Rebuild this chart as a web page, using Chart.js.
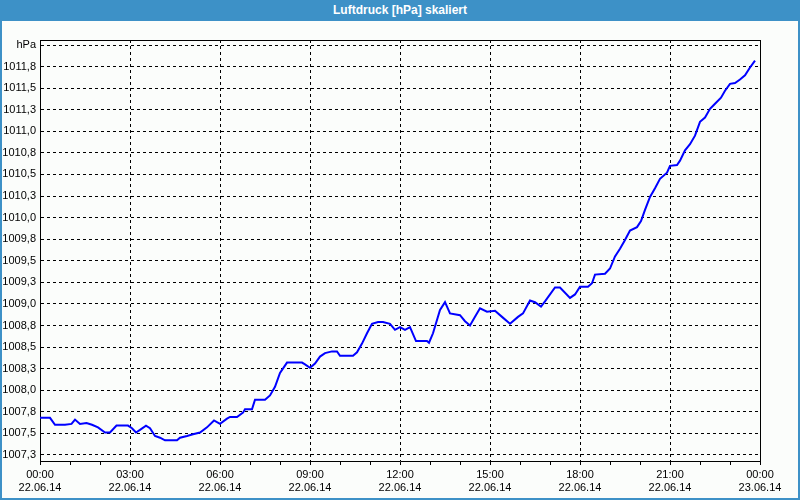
<!DOCTYPE html>
<html>
<head>
<meta charset="utf-8">
<script src="https://cdn.jsdelivr.net/npm/chart.js@4"></script>
<style>
  html, body { margin: 0; padding: 0; }
  body { width: 800px; height: 500px; position: relative; overflow: hidden; }
  #frame {
    position: absolute; left: 0; top: 0; width: 800px; height: 500px;
    box-sizing: border-box; border: 2px solid #3d91c7; border-top: none;
    background: #fbfdfb;
  }
  #titlebar {
    position: absolute; left: 0; top: 0; width: 800px; height: 21px;
    background: #3d91c7; color: #fff;
    font: bold 12px "Liberation Sans", Arial, sans-serif;
    line-height: 21px; text-align: center;
  }
  #chart { position: absolute; left: 0; top: 0; }
</style>
</head>
<body>
<div id="frame"></div>
<div id="titlebar">Luftdruck [hPa] skaliert</div>
<canvas id="chart" width="800" height="500"></canvas>
<script>
// minutes since 22.06.14 00:00
const minutes = [
  0, 20, 30, 50, 63, 70, 80, 93, 104, 116, 130, 140, 153, 176, 184, 192, 200,
  212, 220, 230, 240, 250, 274, 280, 294, 306, 320, 334, 348, 360, 374, 380,
  394, 406, 410, 424, 430, 450, 460, 470, 480, 494, 524, 530, 540, 550, 560,
  570, 584, 594, 600, 626, 634, 644, 654, 664, 676, 686, 700, 710, 720, 730,
  740, 752, 774, 778, 786, 800, 810, 820, 840, 850, 860, 870, 880, 894, 910,
  924, 940, 956, 966, 980, 990, 1002, 1010, 1030, 1040, 1060, 1070, 1080,
  1096, 1104, 1110, 1130, 1140, 1150, 1160, 1170, 1180, 1194, 1202, 1210,
  1220, 1230, 1240, 1254, 1260, 1274, 1280, 1290, 1300, 1310, 1320, 1330,
  1340, 1350, 1362, 1370, 1380, 1390, 1400, 1410, 1420, 1430
];
const pressure = [
  1007.68, 1007.68, 1007.60, 1007.60, 1007.61, 1007.66, 1007.61, 1007.62,
  1007.60, 1007.57, 1007.51, 1007.51, 1007.59, 1007.59, 1007.56, 1007.51,
  1007.54, 1007.59, 1007.56, 1007.47, 1007.45, 1007.42, 1007.42, 1007.45,
  1007.47, 1007.49, 1007.51, 1007.57, 1007.65, 1007.61, 1007.67, 1007.69,
  1007.69, 1007.74, 1007.78, 1007.78, 1007.89, 1007.89, 1007.94, 1008.04,
  1008.20, 1008.32, 1008.32, 1008.30, 1008.26, 1008.31, 1008.39, 1008.43,
  1008.45, 1008.45, 1008.40, 1008.40, 1008.44, 1008.54, 1008.66, 1008.77,
  1008.79, 1008.79, 1008.77, 1008.70, 1008.73, 1008.70, 1008.73, 1008.57,
  1008.57, 1008.55, 1008.66, 1008.93, 1009.02, 1008.89, 1008.87, 1008.80,
  1008.75, 1008.85, 1008.95, 1008.91, 1008.92, 1008.85, 1008.77, 1008.85,
  1008.89, 1009.04, 1009.02, 1008.97, 1009.03, 1009.19, 1009.19, 1009.07,
  1009.11, 1009.20, 1009.20, 1009.24, 1009.34, 1009.35, 1009.41, 1009.55,
  1009.64, 1009.74, 1009.85, 1009.89, 1009.96, 1010.09, 1010.24, 1010.34,
  1010.45, 1010.52, 1010.60, 1010.61, 1010.66, 1010.78, 1010.85, 1010.95,
  1011.11, 1011.16, 1011.26, 1011.32, 1011.39, 1011.47, 1011.55, 1011.56,
  1011.60, 1011.65, 1011.74, 1011.82
];

const xLabelTimes = ["00:00", "03:00", "06:00", "09:00", "12:00", "15:00", "18:00", "21:00", "00:00"];
const xLabelDates = ["22.06.14", "22.06.14", "22.06.14", "22.06.14", "22.06.14", "22.06.14", "22.06.14", "22.06.14", "23.06.14"];

const yTicks = [
  1007.25, 1007.5, 1007.75, 1008.0, 1008.25, 1008.5, 1008.75, 1009.0, 1009.25,
  1009.5, 1009.75, 1010.0, 1010.25, 1010.5, 1010.75, 1011.0, 1011.25, 1011.5,
  1011.75, 1012.0
];
const unitLabel = "hPa";

const font = { family: "'Liberation Sans', Arial, sans-serif", size: 11 };

// solid frame on top and right of the plot area
const plotFrame = {
  id: "plotFrame",
  afterDraw(chart) {
    const { ctx, chartArea: a } = chart;
    ctx.save();
    ctx.strokeStyle = "#000";
    ctx.lineWidth = 1;
    ctx.beginPath();
    ctx.moveTo(Math.round(a.left), Math.round(a.top) + 0.5);
    ctx.lineTo(Math.round(a.right) + 0.5, Math.round(a.top) + 0.5);
    ctx.lineTo(Math.round(a.right) + 0.5, Math.round(a.bottom));
    ctx.stroke();
    ctx.restore();
  },
};

new Chart(document.getElementById("chart").getContext("2d"), {
  type: "line",
  data: {
    datasets: [
      {
        data: minutes.map((m, i) => ({ x: m, y: pressure[i] })),
        borderColor: "#0000ff",
        borderWidth: 2,
        pointRadius: 0,
        tension: 0,
        fill: false,
      },
    ],
  },
  options: {
    responsive: false,
    animation: false,
    devicePixelRatio: 1,
    layout: { padding: { top: 40, right: 40, left: 0, bottom: 0 } },
    plugins: {
      legend: { display: false },
      tooltip: { enabled: false },
    },
    scales: {
      x: {
        type: "linear",
        min: 0,
        max: 1440,
        afterFit: (scale) => { scale.height = 39; },
        ticks: {
          stepSize: 60,
          autoSkip: false,
          maxRotation: 0,
          padding: 3,
          color: "#000",
          font: { ...font, lineHeight: 1.2 },
          callback: (v) => (v % 180 === 0 ? [xLabelTimes[v / 180], xLabelDates[v / 180]] : ""),
        },
        grid: {
          color: (c) => (c.tick && c.tick.value % 180 === 0 ? "#000" : "rgba(0,0,0,0)"),
          tickColor: "#000",
          tickLength: 4,
          tickBorderDash: [],
        },
        border: { display: true, color: "#000", width: 1, dash: [3, 3] },
      },
      y: {
        min: 1007.18,
        max: 1012.058,
        afterFit: (scale) => { scale.width = 40; },
        afterBuildTicks: (scale) => { scale.ticks = yTicks.map((v) => ({ value: v })); },
        ticks: {
          autoSkip: false,
          padding: 4,
          color: "#000",
          font,
          callback: (v) => (v === 1012 ? unitLabel : v.toFixed(1).replace(".", ",")),
        },
        grid: { color: "#000", drawTicks: false },
        border: { display: true, color: "#000", width: 1, dash: [3, 3] },
      },
    },
  },
  plugins: [plotFrame],
});
</script>
</body>
</html>
